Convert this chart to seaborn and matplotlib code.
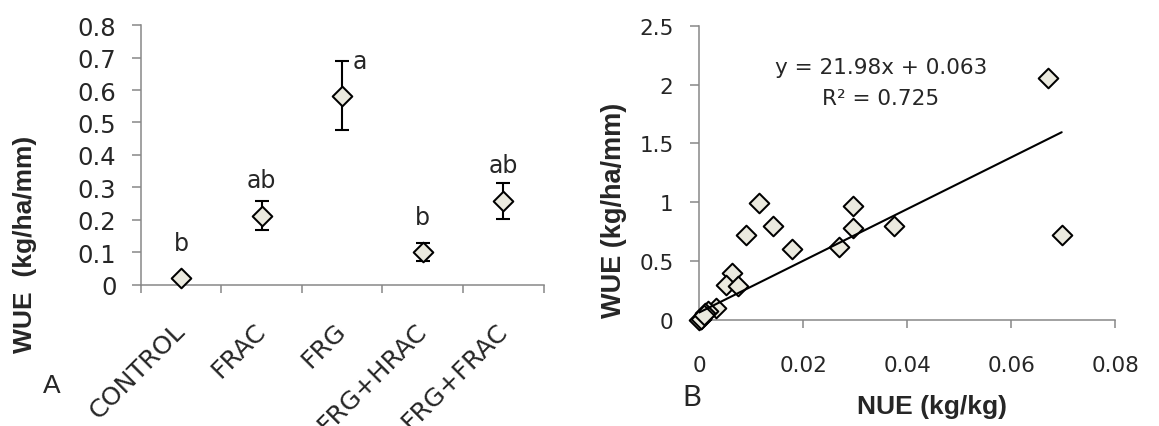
import numpy as np
import pandas as pd
import matplotlib
matplotlib.use("Agg")
import matplotlib.pyplot as plt
import seaborn as sns

# ---------------- data ----------------
# Panel A: WUE by treatment (mean, error, significance letter)
treatments = ["CONTROL", "FRAC", "FRG", "FRG+HRAC", "FRG+FRAC"]
wue_mean = [0.019, 0.213, 0.583, 0.100, 0.258]
wue_err = [0.0, 0.045, 0.106, 0.028, 0.056]
letters = ["b", "ab", "a", "b", "ab"]
a_yticks = [0, 0.1, 0.2, 0.3, 0.4, 0.5, 0.6, 0.7, 0.8]

# Panel B: WUE vs NUE
nue = [0.0671, 0.0697, 0.0115, 0.0296, 0.0142, 0.0090, 0.0178, 0.0375,
       0.0295, 0.0269, 0.0064, 0.0052, 0.0074, 0.0033, 0.0018, 0.0012,
       0.0004, 0.0000, 0.0003, 0.0010]
wue = [2.057, 0.722, 0.990, 0.965, 0.800, 0.722, 0.600, 0.795,
       0.778, 0.617, 0.399, 0.297, 0.291, 0.103, 0.078, 0.062,
       0.010, 0.000, 0.005, 0.040]
slope = 21.98
intercept = 0.063
r2 = 0.725
b_xticks = [0, 0.02, 0.04, 0.06, 0.08]
b_yticks = [0, 0.5, 1, 1.5, 2, 2.5]

# ---------------- style ----------------
sns.set_style("white")
plt.rcParams["font.family"] = ["DejaVu Sans"]
AXC = "#878787"
FACE = "#ebeadf"

W, H = 1159, 427
fig = plt.figure(figsize=(W / 100, H / 100), dpi=100)

def px_axes(x0, x1, y_top, y_bot):
    return [x0 / W, 1 - y_bot / H, (x1 - x0) / W, (y_bot - y_top) / H]

def style_axes(ax):
    for s in ["top", "right"]:
        ax.spines[s].set_visible(False)
    for s in ["left", "bottom"]:
        ax.spines[s].set_color(AXC)
        ax.spines[s].set_linewidth(1.1)

# ---------------- panel A ----------------
ax1 = fig.add_axes(px_axes(140.7, 543.5, 26.2, 285.6))
style_axes(ax1)
df_a = pd.DataFrame({"Treatment": treatments, "WUE": wue_mean})
xpos = np.arange(len(treatments))
ax1.errorbar(xpos, wue_mean, yerr=wue_err, fmt="none", ecolor="black",
             elinewidth=1.5, capsize=4.8, capthick=1.5, zorder=2)
sns.scatterplot(data=df_a, x="Treatment", y="WUE", marker="D", s=100,
                color=FACE, edgecolor="black", linewidth=1.45, zorder=3,
                ax=ax1, legend=False, clip_on=False)
ax1.set_xlim(-0.5, len(treatments) - 0.5)
ax1.set_ylim(0, 0.8)
ax1.set_yticks(a_yticks)
ax1.set_yticklabels([f"{v:g}" for v in a_yticks])
ax1.set_xticks(xpos)
ax1.set_xticklabels([])
ax1.set_xticks(np.arange(-0.5, len(treatments), 1), minor=True)
ax1.tick_params(axis="x", which="major", length=0)
ax1.tick_params(axis="x", which="minor", length=6, width=1.1, color=AXC,
                direction="out", bottom=True)
ax1.tick_params(axis="y", length=6.5, width=1.1, color=AXC, direction="out",
                left=True, pad=11, labelsize=17.5)
# rotated category labels, ending just below each category centre
for i, name in enumerate(treatments):
    ax1.annotate(name, xy=(i, 0), xycoords=("data", "axes fraction"),
                 xytext=(-5.8, -24), textcoords="offset points",
                 rotation=45, rotation_mode="anchor", ha="right", va="top",
                 fontsize=18.3, annotation_clip=False)
ax1.set_xlabel("")
ax1.set_ylabel("")
for i, (m, e, L) in enumerate(zip(wue_mean, wue_err, letters)):
    if e > 0.08:
        ax1.text(i + 0.13, m + e, L, ha="left", va="center", fontsize=17)
    else:
        ax1.text(i, m + 0.11, L, ha="center", va="center", fontsize=17)

fig.text(25 / W, 1 - 244 / H, "WUE  (kg/ha/mm)", rotation=90, ha="center",
         va="center", fontweight="bold", family="Liberation Sans", fontsize=19)
fig.text(51.5 / W, 1 - 386.5 / H, "A", ha="center", va="center",
         family="Liberation Sans", fontsize=19)

# ---------------- panel B ----------------
ax2 = fig.add_axes(px_axes(699, 1115.3, 26.7, 321))
style_axes(ax2)
df_b = pd.DataFrame({"NUE": nue, "WUE": wue})
sns.scatterplot(data=df_b, x="NUE", y="WUE", marker="D", s=100, color=FACE,
                edgecolor="black", linewidth=1.45, zorder=3, ax=ax2,
                legend=False, clip_on=False)
xl = np.array([min(nue), max(nue)])
sns.lineplot(x=xl, y=slope * xl + intercept, color="black", linewidth=1.5,
             ax=ax2, zorder=4)
ax2.set_xlim(0, 0.08)
ax2.set_ylim(0, 2.5)
ax2.set_xticks(b_xticks)
ax2.set_xticklabels([f"{v:g}" for v in b_xticks])
ax2.set_yticks(b_yticks)
ax2.set_yticklabels([f"{v:g}" for v in b_yticks])
ax2.tick_params(axis="x", length=6, width=1.1, color=AXC, direction="out",
                bottom=True, pad=19, labelsize=15.5)
ax2.tick_params(axis="y", length=6.3, width=1.1, color=AXC, direction="out",
                left=True, pad=12, labelsize=15.5)
ax2.set_xlabel("")
ax2.set_ylabel("")
fig.text(880.7 / W, 1 - 68.3 / H, f"y = {slope:.2f}x + {intercept:.3f}",
         ha="center", va="center", fontsize=15.5)
fig.text(880.7 / W, 1 - 99 / H, f"R² = {r2:.3f}", ha="center", va="center",
         fontsize=15.5)
fig.text(931.7 / W, 1 - 406.7 / H, "NUE (kg/kg)", ha="center", va="center",
         fontweight="bold", family="Liberation Sans", fontsize=19)
fig.text(614 / W, 1 - 210 / H, "WUE (kg/ha/mm)", rotation=90, ha="center",
         va="center", fontweight="bold", family="Liberation Sans", fontsize=19.5)
fig.text(692 / W, 1 - 398 / H, "B", ha="center", va="center",
         family="Lato", fontsize=21)

fig.savefig("out.png", dpi=100)
